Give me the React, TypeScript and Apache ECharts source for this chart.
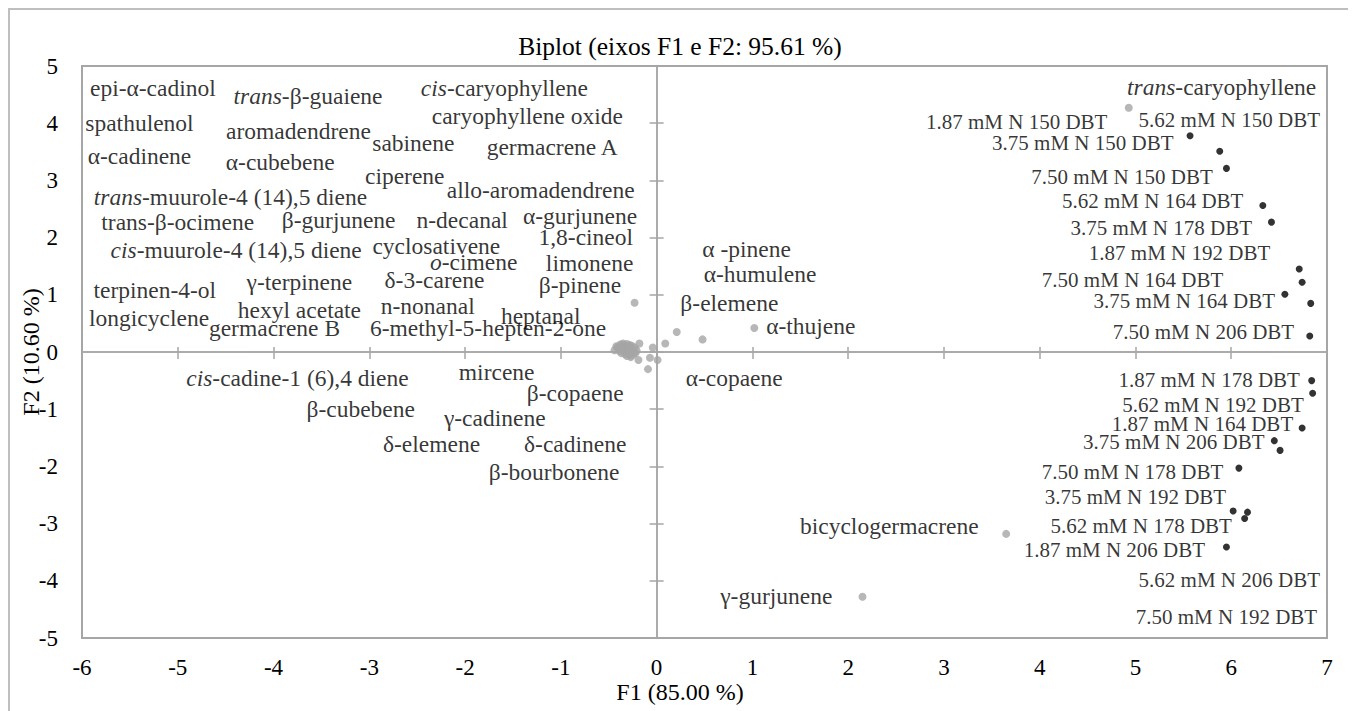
import React, { useEffect, useRef } from "react";
import * as echarts from "echarts";

const FONT = "Liberation Serif";

// Axis ranges and ticks
const xTicks = [-6, -5, -4, -3, -2, -1, 0, 1, 2, 3, 4, 5, 6, 7];
const yTicks = [-5, -4, -3, -2, -1, 0, 1, 2, 3, 4, 5];

// Variable loadings (F1, F2)
const variablePoints: [number, number][] = [
  [4.93, 4.27],
  [3.65, -3.18],
  [2.15, -4.28],
  [1.02, 0.42],
  [0.48, 0.22],
  [0.21, 0.35],
  [-0.23, 0.86],
  [0.09, 0.15],
  [-0.04, 0.08],
  [-0.18, 0.15],
  [0.01, -0.14],
  [-0.07, -0.1],
  [-0.09, -0.3],
  [-0.19, -0.14],
  [-0.42, 0.1],
  [-0.38, 0.13],
  [-0.35, 0.15],
  [-0.31, 0.14],
  [-0.28, 0.12],
  [-0.4, 0.06],
  [-0.36, 0.08],
  [-0.33, 0.09],
  [-0.3, 0.07],
  [-0.26, 0.05],
  [-0.44, 0.03],
  [-0.39, 0.02],
  [-0.35, 0.03],
  [-0.32, 0.01],
  [-0.29, 0.02],
  [-0.25, 0.0],
  [-0.37, -0.02],
  [-0.33, -0.04],
  [-0.3, -0.03],
  [-0.27, -0.06],
  [-0.24, -0.04],
  [-0.34, 0.11],
  [-0.29, 0.1],
  [-0.41, 0.08],
  [-0.31, -0.07],
  [-0.27, -0.09],
  [-0.23, 0.08],
  [-0.36, 0.12],
  [-0.22, -0.02],
  [-0.32, 0.05],
  [-0.28, -0.01],
  [-0.38, 0.04],
  [-0.26, 0.11],
  [-0.21, 0.03],
];

// Observation scores (F1, F2)
const observationPoints: [number, number][] = [
  [5.57, 3.78],
  [5.88, 3.51],
  [5.95, 3.21],
  [6.33, 2.56],
  [6.42, 2.27],
  [6.71, 1.45],
  [6.74, 1.22],
  [6.56, 1.01],
  [6.83, 0.85],
  [6.82, 0.28],
  [6.84, -0.5],
  [6.85, -0.72],
  [6.74, -1.33],
  [6.45, -1.55],
  [6.51, -1.72],
  [6.08, -2.03],
  [6.02, -2.78],
  [6.17, -2.8],
  [6.14, -2.91],
  [5.95, -3.41],
];

// Variable label texts and their anchor positions (F1, F2)
const variableNames: string[] = [
  "epi-α-cadinol",
  "{i|trans}-β-guaiene",
  "{i|cis}-caryophyllene",
  "spathulenol",
  "caryophyllene oxide",
  "aromadendrene",
  "sabinene",
  "germacrene A",
  "α-cadinene",
  "α-cubebene",
  "ciperene",
  "{i|trans}-muurole-4 (14),5 diene",
  "allo-aromadendrene",
  "trans-β-ocimene",
  "β-gurjunene",
  "n-decanal",
  "α-gurjunene",
  "{i|cis}-muurole-4 (14),5 diene",
  "cyclosativene",
  "1,8-cineol",
  "{i|o}-cimene",
  "limonene",
  "terpinen-4-ol",
  "γ-terpinene",
  "δ-3-carene",
  "β-pinene",
  "longicyclene",
  "hexyl acetate",
  "n-nonanal",
  "heptanal",
  "germacrene B",
  "6-methyl-5-hepten-2-one",
  "{i|cis}-cadine-1 (6),4 diene",
  "mircene",
  "β-copaene",
  "β-cubebene",
  "γ-cadinene",
  "δ-elemene",
  "δ-cadinene",
  "β-bourbonene",
  "α -pinene",
  "α-humulene",
  "β-elemene",
  "α-thujene",
  "α-copaene",
  "{i|trans}-caryophyllene",
  "bicyclogermacrene",
  "γ-gurjunene",
];
const variableLabelX: number[] = [
  -5.26, -3.64, -1.59, -5.4, -1.35, -3.74, -2.54, -1.09, -5.4, -3.93, -2.63, -4.45, -1.21, -5.0, -3.32,
  -2.03, -0.8, -4.39, -2.3, -0.74, -1.91, -0.7, -5.24, -3.73, -2.32, -0.8, -5.3, -3.73, -2.39, -1.21,
  -3.99, -1.76, -3.75, -1.67, -0.85, -3.09, -1.69, -2.35, -0.85, -1.07, 0.94, 1.08, 0.76, 1.61, 0.81,
  5.9, 2.43, 1.25,
];
const variableLabelY: number[] = [
  4.62, 4.48, 4.62, 4.0, 4.13, 3.86, 3.65, 3.58, 3.43, 3.32, 3.08, 2.71, 2.83, 2.27, 2.31, 2.31, 2.38,
  1.78, 1.85, 2.01, 1.57, 1.56, 1.08, 1.22, 1.26, 1.17, 0.59, 0.73, 0.8, 0.63, 0.42, 0.42, -0.45, -0.35,
  -0.72, -1.0, -1.15, -1.61, -1.61, -2.1, 1.8, 1.36, 0.86, 0.45, -0.45, 4.63, -3.04, -4.27,
];

// Observation label texts and their anchor positions (F1, F2)
const observationNames: string[] = [
  "1.87 mM N 150 DBT",
  "5.62 mM N 150 DBT",
  "3.75 mM N 150 DBT",
  "7.50 mM N 150 DBT",
  "5.62 mM N 164 DBT",
  "3.75 mM N 178 DBT",
  "1.87 mM N 192 DBT",
  "7.50 mM N 164 DBT",
  "3.75 mM N 164 DBT",
  "7.50 mM N 206 DBT",
  "1.87 mM N 178 DBT",
  "5.62 mM N 192 DBT",
  "1.87 mM N 164 DBT",
  "3.75 mM N 206 DBT",
  "7.50 mM N 178 DBT",
  "3.75 mM N 192 DBT",
  "5.62 mM N 178 DBT",
  "1.87 mM N 206 DBT",
  "5.62 mM N 206 DBT",
  "7.50 mM N 192 DBT",
];
const observationLabelX: number[] = [
  3.76, 5.98, 4.45, 4.86, 5.18, 5.27, 5.46, 4.97, 5.51, 5.71, 5.77, 5.81, 5.7, 5.4, 4.97, 5.0, 5.06,
  4.78, 5.98, 5.95,
];
const observationLabelY: number[] = [
  4.02, 4.06, 3.65, 3.06, 2.64, 2.17, 1.73, 1.26, 0.89, 0.35, -0.49, -0.93, -1.26, -1.57, -2.1, -2.53,
  -3.04, -3.46, -3.99, -4.63,
];

const TITLE = "Biplot (eixos F1 e F2: 95.61 %)";
const X_NAME = "F1 (85.00 %)";
const Y_NAME = "F2 (10.60 %)";

const AXIS_GRAY = "#a6a6a6";

// Serif text style, applied through rich-text blocks
const serif = (size: number) => ({ fontFamily: FONT, fontSize: size, color: "#000", fontWeight: "normal" as const });

export default function App() {
  const ref = useRef<HTMLDivElement>(null);

  useEffect(() => {
    document.documentElement.style.overflow = "hidden";
    document.body.style.overflow = "hidden";
    const chart = echarts.init(ref.current!, null, { renderer: "svg" });

    const xMin = xTicks[0];
    const xMax = xTicks[xTicks.length - 1];
    const yMin = yTicks[0];
    const yMax = yTicks[yTicks.length - 1];

    const baseX = { type: "value", min: xMin, max: xMax, interval: 1, splitLine: { show: false } };
    const baseY = { type: "value", min: yMin, max: yMax, interval: 1, splitLine: { show: false } };

    const zeroLine = { show: true, onZero: true, lineStyle: { color: AXIS_GRAY, width: 1.5 } };
    const tickStyle = { color: AXIS_GRAY, width: 1.5 };

    const tickLabel = (margin: number) => ({
      margin,
      ...serif(23),
      formatter: (v: number) => `{s|${v}}`,
      rich: { s: serif(23) },
    });

    const textLabels = (size: number) => ({
      show: true,
      position: "inside",
      formatter: (p: any) => p.data[2],
      ...serif(size),
      rich: {
        i: { ...serif(size), fontStyle: "italic" },
      },
    });

    const variableLabelData = variableNames.map((n, i) => [variableLabelX[i], variableLabelY[i], n]);
    const observationLabelData = observationNames.map((n, i) => [
      observationLabelX[i],
      observationLabelY[i],
      n,
    ]);

    chart.setOption({
      animation: false,
      textStyle: { fontFamily: FONT },
      title: {
        text: `{s|${TITLE}}`,
        left: "center",
        top: 20,
        textStyle: { ...serif(25.5), rich: { s: serif(25.5) } },
      },
      grid: {
        left: 74,
        top: 58,
        right: 25,
        bottom: 73,
        show: true,
        borderColor: AXIS_GRAY,
        borderWidth: 2,
      },
      xAxis: [
        {
          ...baseX,
          position: "bottom",
          axisLine: { show: false },
          axisTick: { show: false },
          axisLabel: tickLabel(18),
        },
        {
          ...baseX,
          axisLine: zeroLine,
          axisTick: { show: true, inside: true, length: 7, lineStyle: tickStyle },
          axisLabel: { show: false },
        },
        {
          ...baseX,
          axisLine: zeroLine,
          axisTick: { show: true, inside: false, length: 5, lineStyle: tickStyle },
          axisLabel: { show: false },
        },
      ],
      yAxis: [
        {
          ...baseY,
          position: "left",
          axisLine: { show: false },
          axisTick: { show: false },
          axisLabel: tickLabel(24),
        },
        {
          ...baseY,
          axisLine: zeroLine,
          axisTick: { show: true, inside: true, length: 7, lineStyle: tickStyle },
          axisLabel: { show: false },
        },
        {
          ...baseY,
          axisLine: zeroLine,
          axisTick: { show: true, inside: false, length: 7, lineStyle: tickStyle },
          axisLabel: { show: false },
        },
      ],
      graphic: [
        {
          type: "rect",
          shape: { x: 1, y: 1, width: 1342, height: 740 },
          style: { fill: "none", stroke: "#bfbfbf", lineWidth: 2 },
          silent: true,
        },
        {
          type: "text",
          left: "center",
          top: 672,
          style: {
            text: `{s|${X_NAME}}`,
            fontFamily: FONT,
            fontSize: 24,
            fill: "#000",
            rich: { s: { fontFamily: FONT, fontSize: 24, fill: "#000" } },
          },
        },
        {
          type: "text",
          x: 23,
          y: 344,
          rotation: Math.PI / 2,
          style: {
            text: `{s|${Y_NAME}}`,
            fontFamily: FONT,
            fontSize: 24,
            fill: "#000",
            align: "center",
            verticalAlign: "middle",
            rich: { s: { fontFamily: FONT, fontSize: 24, fill: "#000" } },
          },
        },
      ],
      series: [
        {
          type: "scatter",
          xAxisIndex: 0,
          yAxisIndex: 0,
          data: variablePoints,
          symbolSize: 8,
          itemStyle: { color: "#a5a5a5" },
          z: 3,
        },
        {
          type: "scatter",
          xAxisIndex: 0,
          yAxisIndex: 0,
          data: observationPoints,
          symbolSize: 7,
          itemStyle: { color: "#000" },
          z: 4,
        },
        {
          type: "scatter",
          xAxisIndex: 0,
          yAxisIndex: 0,
          data: variableLabelData,
          symbolSize: 0,
          silent: true,
          z: 5,
          label: textLabels(23.5),
        },
        {
          type: "scatter",
          xAxisIndex: 0,
          yAxisIndex: 0,
          data: observationLabelData,
          symbolSize: 0,
          silent: true,
          z: 5,
          label: textLabels(21),
        },
      ],
    });

    return () => chart.dispose();
  }, []);

  return <div ref={ref} style={{ width: 1344, height: 703 }} />;
}
